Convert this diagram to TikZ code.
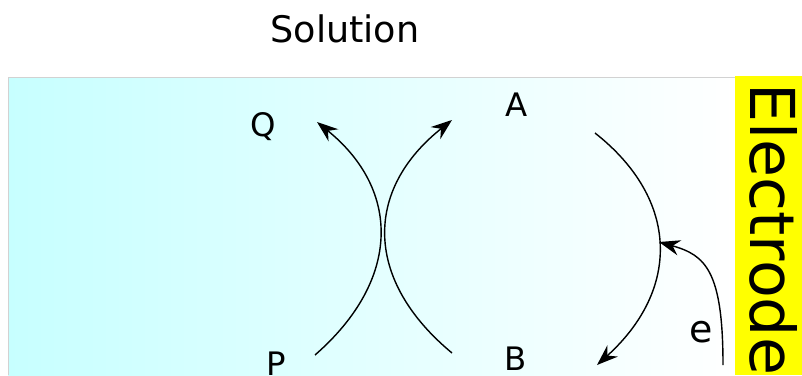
\documentclass[tikz,border=0pt]{standalone}
\usepackage{fontspec}
\setmainfont{DejaVu Sans}
\usepackage{tikz}
\usetikzlibrary{arrows.meta,positioning}
\definecolor{sol}{RGB}{199,255,255}
\definecolor{elec}{RGB}{255,255,0}
\tikzset{
  lbl/.style={inner sep=0pt,font=\fontsize{23}{27}\selectfont},
  flow/.style={line width=1pt,-{Stealth[length=15pt,width=11pt,inset=5pt]}},
  plain/.style={line width=1pt}
}

\begin{document}
\begin{tikzpicture}[x=0.025cm,y=-0.025cm]
    \useasboundingbox (0,0) rectangle (802,375);
    % solution and electrode
    \shade[left color=sol,right color=white] (8,77) rectangle (735,375);
    \draw[gray!35,line width=0.6pt] (8,375)--(8,77)--(735,77);
    \fill[elec] (735,76) rectangle (802,375);
    \node[inner sep=0pt,rotate=-90,anchor=west,font=\fontsize{44}{50}\selectfont] (elec) at (774,83){Electrode};
    \node[inner sep=0pt,font=\fontsize{26}{30}\selectfont] (sol) at (345,29){Solution};
    % species
    \node[lbl] (Q) at (263,127){Q};
    \node[lbl] (P) at (276,364){P};
    \node[lbl] (A) at (517,105){A};
    \node[lbl] (B) at (516,359){B};
    \node[lbl,font=\fontsize{27}{31}\selectfont] (e) at (701,332){e};
    % curve ends
    \coordinate (p0) at (315,355);
    \coordinate (q0) at (317,122);
    \coordinate (b0) at (452,353);
    \coordinate (a0) at (452,120);
    \coordinate (a1) at (595,133);
    \coordinate (b1) at (597,365);
    \coordinate (e0) at (723,365);
    \coordinate (e1) at (659,242);
    \draw[flow] (p0) .. controls (401,280) and (401,190) .. (q0);
    \draw[flow] (b0) .. controls (364,280) and (364,190) .. (a0);
    \draw[flow] (a1) .. controls (680,200) and (680,290) .. (b1);
    \draw[flow] (e0) .. controls (723,270) and (705,255) .. (e1);
  \end{tikzpicture}
\end{document}
